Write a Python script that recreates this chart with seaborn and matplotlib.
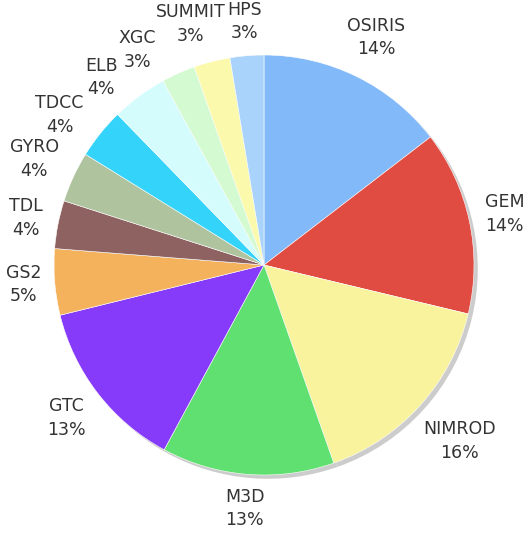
import numpy as np
import matplotlib
matplotlib.use("Agg")
import matplotlib.pyplot as plt
import seaborn as sns

sns.set_theme(style="white")
plt.rcParams["font.family"] = ["DejaVu Sans"]

CODES = ["OSIRIS", "GEM", "NIMROD", "M3D", "GTC", "GS2", "TDL",
         "GYRO", "TDCC", "ELB", "XGC", "SUMMIT", "HPS"]
SHARES = [14.6, 14.2, 15.9, 13.3, 13.3, 5.1, 3.7,
          3.9, 3.9, 4.3, 2.6, 2.8, 2.6]
PCT_LABELS = [14, 14, 16, 13, 13, 5, 4, 4, 4, 4, 3, 3, 3]
COLORS = ["#82b9f8", "#e04b42", "#faf39d", "#60e070", "#853bf9",
          "#f5b25c", "#8f6262", "#afc49e", "#33d3fa", "#d4fcfd",
          "#d3fad0", "#fbf9ab", "#a9d3fa"]

W, H, DPI = 529, 541, 100
CX, CY, R = 264, 265, 210   # pie centre / radius in pixels
GAP = 12 / R                # space between rim and label box

fig = plt.figure(figsize=(W / DPI, H / DPI), dpi=DPI)
ax = fig.add_axes([0, 0, 1, 1])

# soft drop shadow
ax.pie(SHARES, colors=["#cccccc"] * len(SHARES), startangle=90,
       counterclock=False, center=(0.018, -0.018),
       wedgeprops={"linewidth": 0})

labels = [f"{c}\n{p}%" for c, p in zip(CODES, PCT_LABELS)]
wedges, texts = ax.pie(
    SHARES, labels=labels, colors=COLORS, startangle=90,
    counterclock=False, labeldistance=1.1,
    wedgeprops={"linewidth": 0.4, "edgecolor": "white"},
    textprops={"fontsize": 12.5, "color": "#333333", "linespacing": 1.4},
)

ax.set_aspect("auto")
ax.set_xlim(-CX / R, (W - CX) / R)
ax.set_ylim(-(H - CY) / R, CY / R)
ax.axis("off")

fig.canvas.draw()
renderer = fig.canvas.get_renderer()


def place(t, deg):
    # put the label box just outside the rim along angle deg
    ang = np.deg2rad(deg)
    ux, uy = np.cos(ang), np.sin(ang)
    bb = t.get_window_extent(renderer)
    hw, hh = bb.width / 2 / R, bb.height / 2 / R
    d = 1 + GAP + hw * abs(ux) + hh * abs(uy)
    t.set_position((d * ux, d * uy))


def boxes_hit(a, b):
    ba = a.get_window_extent(renderer).expanded(1.0, 0.9)
    bb = b.get_window_extent(renderer).expanded(1.0, 0.9)
    return ba.overlaps(bb)


for t in texts:
    t.set_ha("center")
    t.set_va("center")

# walk from the last (top) slice back round, nudging crowded labels
prev = None
for w, t in zip(wedges[::-1], texts[::-1]):
    deg = (w.theta1 + w.theta2) / 2
    place(t, deg)
    while prev is not None and boxes_hit(t, prev):
        deg += 0.5
        place(t, deg)
    prev = t

fig.savefig("out.png", dpi=DPI)
